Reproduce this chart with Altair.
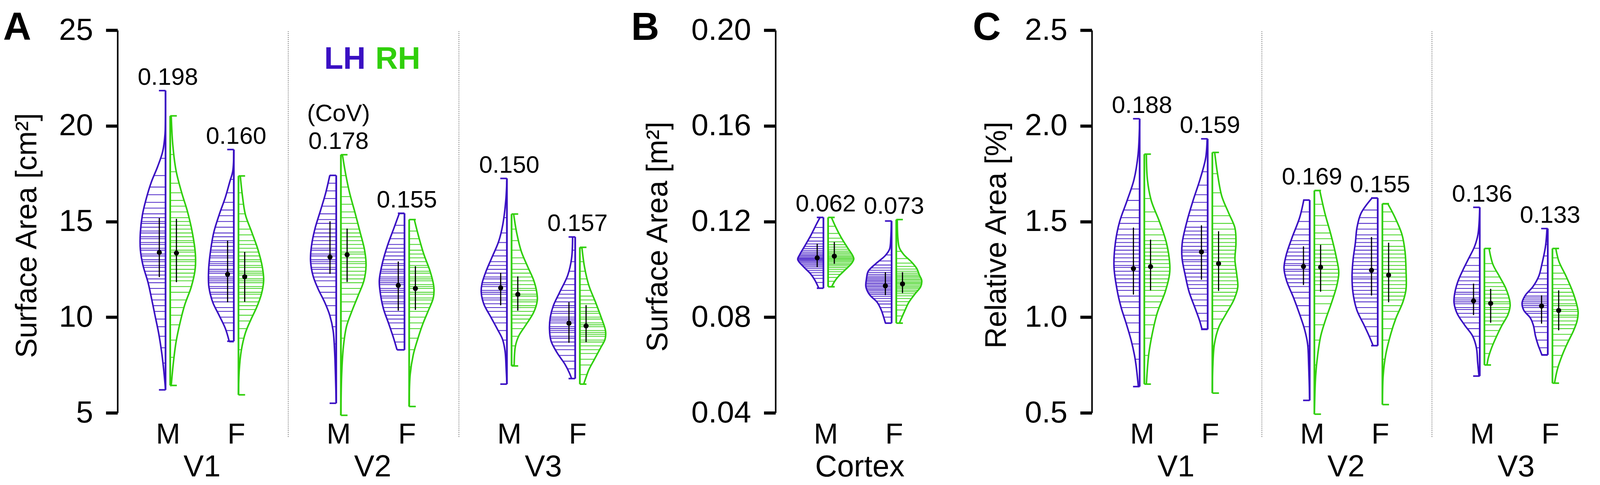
import altair as alt
import numpy as np
import pandas as pd

# ---------------- Panel A : Surface Area [cm2] ----------------
# profile: y = value, w = relative density (1 = widest)
A_V1_M_LH_y = [21.84, 19.58, 18.66, 17.86, 17.07, 16.15, 15.35, 14.43, 13.52, 12.72, 11.81, 11.01, 10.09, 9.18, 8.15, 7.23, 6.20]
A_V1_M_LH_w = [0.00, 0.02, 0.11, 0.31, 0.55, 0.76, 0.90, 0.98, 0.98, 0.88, 0.68, 0.55, 0.41, 0.27, 0.15, 0.07, 0.00]
A_V1_M_LH_obs = [6.2, 7.6, 8.4, 9.0, 9.5, 9.9, 10.3, 10.6, 10.9, 11.2, 11.5, 11.8, 12.0, 12.2, 12.4, 12.6, 12.7, 12.9, 13.0, 13.2, 13.3, 13.5, 13.6, 13.8, 13.9, 14.1, 14.2, 14.4, 14.5, 14.7, 14.9, 15.0, 15.2, 15.4, 15.7, 16.0, 16.4, 16.8, 17.4, 18.3]

A_V1_M_RH_y = [20.52, 19.01, 17.64, 16.49, 15.58, 14.43, 13.29, 12.49, 11.58, 10.66, 9.86, 8.72, 7.58, 6.43]
A_V1_M_RH_w = [0.04, 0.10, 0.23, 0.45, 0.66, 0.86, 0.98, 0.97, 0.82, 0.57, 0.41, 0.23, 0.12, 0.04]
A_V1_M_RH_obs = [6.4, 7.9, 8.8, 9.6, 10.1, 10.5, 10.9, 11.3, 11.6, 11.9, 12.1, 12.3, 12.5, 12.7, 12.9, 13.0, 13.2, 13.4, 13.5, 13.7, 13.9, 14.0, 14.2, 14.4, 14.6, 14.8, 15.0, 15.2, 15.5, 15.8, 16.1, 16.5, 17.0, 17.6, 18.5]

A_V1_F_LH_y = [18.76, 17.64, 17.06, 16.26, 15.35, 14.43, 13.52, 12.49, 11.58, 10.78, 10.09, 9.41, 8.74]
A_V1_F_LH_w = [0.00, 0.04, 0.16, 0.33, 0.57, 0.78, 0.90, 0.98, 0.97, 0.82, 0.57, 0.33, 0.18]
A_V1_F_LH_obs = [8.7, 9.3, 9.7, 10.0, 10.3, 10.5, 10.8, 11.0, 11.2, 11.3, 11.5, 11.6, 11.8, 11.9, 12.0, 12.1, 12.3, 12.4, 12.5, 12.7, 12.8, 12.9, 13.1, 13.2, 13.4, 13.5, 13.7, 13.9, 14.0, 14.2, 14.4, 14.7, 15.0, 15.3, 15.6, 16.0, 16.5, 17.2]

A_V1_F_RH_y = [17.38, 16.38, 15.35, 14.43, 13.52, 12.61, 11.92, 11.24, 10.55, 9.86, 9.18, 8.26, 7.24, 5.94]
A_V1_F_RH_w = [0.07, 0.15, 0.27, 0.52, 0.76, 0.93, 0.98, 0.90, 0.72, 0.48, 0.27, 0.11, 0.03, 0.00]
A_V1_F_RH_obs = [7.5, 8.3, 8.9, 9.4, 9.8, 10.1, 10.4, 10.6, 10.8, 11.0, 11.2, 11.3, 11.5, 11.6, 11.8, 11.9, 12.0, 12.2, 12.3, 12.4, 12.6, 12.7, 12.9, 13.0, 13.2, 13.4, 13.6, 13.8, 14.0, 14.3, 14.6, 15.0, 15.4, 15.9, 16.5]

A_V2_M_LH_y = [17.41, 16.49, 15.58, 14.66, 13.75, 12.95, 12.15, 11.46, 10.78, 10.09, 9.29, 8.15, 7.01, 5.50]
A_V2_M_LH_w = [0.25, 0.41, 0.61, 0.82, 0.96, 1.00, 0.90, 0.70, 0.45, 0.25, 0.12, 0.06, 0.03, 0.00]
A_V2_M_LH_obs = [8.6, 9.5, 10.1, 10.6, 11.0, 11.3, 11.6, 11.9, 12.1, 12.3, 12.5, 12.6, 12.8, 12.9, 13.0, 13.2, 13.3, 13.5, 13.6, 13.8, 14.0, 14.2, 14.4, 14.6, 14.9, 15.1, 15.4, 15.8, 16.2, 16.6, 17.0]

A_V2_M_RH_y = [18.49, 17.52, 16.49, 15.46, 14.43, 13.52, 12.72, 11.92, 11.12, 10.32, 9.52, 8.49, 7.01, 4.87]
A_V2_M_RH_w = [0.06, 0.18, 0.34, 0.55, 0.75, 0.92, 0.98, 0.90, 0.67, 0.43, 0.22, 0.10, 0.03, 0.00]
A_V2_M_RH_obs = [7.5, 8.9, 9.8, 10.3, 10.8, 11.2, 11.5, 11.8, 12.0, 12.2, 12.4, 12.6, 12.8, 12.9, 13.1, 13.3, 13.4, 13.6, 13.8, 14.0, 14.2, 14.4, 14.6, 14.9, 15.2, 15.5, 15.9, 16.3, 16.8, 17.4]

A_V2_F_LH_y = [15.43, 14.66, 13.75, 12.83, 11.92, 11.24, 10.44, 9.64, 8.84, 8.29]
A_V2_F_LH_w = [0.20, 0.41, 0.66, 0.86, 0.98, 0.94, 0.82, 0.61, 0.41, 0.29]
A_V2_F_LH_obs = [8.3, 8.7, 9.1, 9.4, 9.7, 9.9, 10.1, 10.3, 10.5, 10.7, 10.8, 11.0, 11.1, 11.3, 11.4, 11.5, 11.7, 11.8, 11.9, 12.0, 12.1, 12.3, 12.4, 12.5, 12.7, 12.8, 13.0, 13.2, 13.4, 13.6, 13.8, 14.1, 14.4, 14.8, 15.4]

A_V2_F_RH_y = [15.10, 14.21, 13.29, 12.38, 11.58, 11.01, 10.32, 9.64, 8.84, 8.04, 7.01, 5.33]
A_V2_F_RH_w = [0.20, 0.37, 0.57, 0.82, 0.96, 0.94, 0.74, 0.53, 0.33, 0.16, 0.04, 0.00]
A_V2_F_RH_obs = [7.4, 8.3, 8.9, 9.4, 9.7, 10.0, 10.3, 10.5, 10.7, 10.9, 11.0, 11.2, 11.3, 11.5, 11.6, 11.7, 11.9, 12.0, 12.1, 12.3, 12.4, 12.6, 12.7, 12.9, 13.1, 13.3, 13.5, 13.8, 14.1, 14.5, 15.1]

A_V3_M_LH_y = [17.25, 16.16, 14.84, 13.96, 13.07, 12.37, 11.75, 11.31, 10.69, 9.99, 9.37, 8.84, 8.21, 7.34, 6.50]
A_V3_M_LH_w = [0.00, 0.04, 0.16, 0.32, 0.60, 0.82, 0.97, 1.00, 0.90, 0.62, 0.37, 0.17, 0.07, 0.03, 0.00]
A_V3_M_LH_obs = [8.0, 8.8, 9.3, 9.7, 10.0, 10.3, 10.5, 10.7, 10.9, 11.0, 11.2, 11.3, 11.4, 11.6, 11.7, 11.8, 12.0, 12.1, 12.3, 12.5, 12.7, 12.9, 13.2, 13.5, 13.9, 14.4, 15.2]

A_V3_M_RH_y = [15.39, 14.40, 13.43, 12.63, 11.93, 11.31, 10.87, 10.25, 9.54, 9.02, 8.49, 7.45]
A_V3_M_RH_w = [0.08, 0.20, 0.38, 0.63, 0.86, 0.98, 1.00, 0.86, 0.53, 0.28, 0.15, 0.10]
A_V3_M_RH_obs = [7.5, 8.5, 9.0, 9.4, 9.7, 9.9, 10.1, 10.3, 10.5, 10.6, 10.8, 10.9, 11.1, 11.2, 11.4, 11.5, 11.7, 11.9, 12.1, 12.3, 12.5, 12.8, 13.1, 13.5, 14.0, 14.6, 15.4]

A_V3_F_LH_y = [14.19, 13.07, 12.19, 11.31, 10.60, 9.99, 9.37, 8.75, 8.13, 7.52, 7.07, 6.79]
A_V3_F_LH_w = [0.10, 0.14, 0.29, 0.60, 0.85, 0.97, 1.00, 0.94, 0.70, 0.39, 0.22, 0.14]
A_V3_F_LH_obs = [6.8, 7.3, 7.7, 8.0, 8.3, 8.5, 8.7, 8.9, 9.0, 9.2, 9.3, 9.4, 9.5, 9.7, 9.8, 9.9, 10.0, 10.2, 10.3, 10.5, 10.6, 10.8, 11.0, 11.2, 11.4, 11.7, 12.0, 12.4, 12.9, 13.5, 14.2]

A_V3_F_RH_y = [13.65, 12.63, 11.66, 10.78, 9.99, 9.28, 8.84, 8.40, 7.78, 7.25, 6.81, 6.50]
A_V3_F_RH_w = [0.08, 0.18, 0.35, 0.61, 0.83, 1.00, 0.98, 0.81, 0.56, 0.35, 0.23, 0.15]
A_V3_F_RH_obs = [6.5, 7.0, 7.5, 7.8, 8.1, 8.3, 8.5, 8.7, 8.8, 9.0, 9.1, 9.2, 9.3, 9.5, 9.6, 9.7, 9.9, 10.0, 10.2, 10.3, 10.5, 10.7, 10.9, 11.1, 11.4, 11.7, 12.0, 12.4, 12.9, 13.6]

# order of halves: V1 M LH, V1 M RH, V1 F LH, V1 F RH, V2 ..., V3 ...
A_dot = [13.38, 13.35, 12.24, 12.11, 13.14, 13.26, 11.66, 11.50, 11.53, 11.19, 9.68, 9.54]
A_lo = [12.09, 11.83, 10.78, 10.80, 12.26, 11.84, 10.34, 10.38, 10.62, 10.34, 8.66, 8.69]
A_hi = [15.18, 15.14, 14.00, 13.41, 15.01, 14.63, 12.91, 12.66, 12.32, 12.13, 10.78, 10.63]
A_cov = ["0.198", "0.160", "0.178", "0.155", "0.150", "0.157"]

# ---------------- Panel B : Surface Area [m2] ----------------
B_Cortex_M_LH_y = [0.1217, 0.1187, 0.1144, 0.1106, 0.1062, 0.1041, 0.1008, 0.0981, 0.0954, 0.0921]
B_Cortex_M_LH_w = [0.13, 0.28, 0.48, 0.68, 0.92, 1.00, 0.75, 0.50, 0.33, 0.18]
B_Cortex_M_LH_obs = [0.0945, 0.0962, 0.0975, 0.0986, 0.0995, 0.1003, 0.1010, 0.1016, 0.1022, 0.1028, 0.1033, 0.1038, 0.1042, 0.1046, 0.1050, 0.1055, 0.1060, 0.1066, 0.1072, 0.1079, 0.1087, 0.1096, 0.1106, 0.1118, 0.1133, 0.1152, 0.1175]

B_Cortex_M_RH_y = [0.1217, 0.1176, 0.1133, 0.1090, 0.1057, 0.1043, 0.1024, 0.0997, 0.0970, 0.0949, 0.0927]
B_Cortex_M_RH_w = [0.13, 0.30, 0.51, 0.76, 0.96, 1.00, 0.91, 0.66, 0.40, 0.25, 0.14]
B_Cortex_M_RH_obs = [0.0950, 0.0966, 0.0979, 0.0990, 0.0999, 0.1007, 0.1014, 0.1020, 0.1026, 0.1032, 0.1037, 0.1042, 0.1047, 0.1052, 0.1057, 0.1063, 0.1069, 0.1076, 0.1084, 0.1093, 0.1103, 0.1115, 0.1130, 0.1150, 0.1180]

B_Cortex_F_LH_y = [0.1202, 0.1133, 0.1084, 0.1057, 0.1024, 0.0992, 0.0959, 0.0927, 0.0894, 0.0862, 0.0829, 0.0797, 0.0775]
B_Cortex_F_LH_w = [0.01, 0.03, 0.08, 0.25, 0.61, 0.91, 0.98, 1.00, 0.86, 0.56, 0.40, 0.30, 0.24]
B_Cortex_F_LH_obs = [0.0800, 0.0822, 0.0840, 0.0855, 0.0867, 0.0878, 0.0887, 0.0895, 0.0902, 0.0909, 0.0915, 0.0921, 0.0927, 0.0932, 0.0938, 0.0943, 0.0949, 0.0954, 0.0960, 0.0966, 0.0972, 0.0979, 0.0987, 0.0996, 0.1006, 0.1018, 0.1035, 0.1060, 0.1100]

B_Cortex_F_RH_y = [0.1208, 0.1133, 0.1090, 0.1062, 0.1030, 0.1003, 0.0976, 0.0954, 0.0927, 0.0900, 0.0862, 0.0824, 0.0775]
B_Cortex_F_RH_w = [0.04, 0.06, 0.12, 0.29, 0.60, 0.80, 0.90, 0.99, 0.95, 0.75, 0.49, 0.32, 0.12]
B_Cortex_F_RH_obs = [0.0805, 0.0830, 0.0850, 0.0865, 0.0878, 0.0889, 0.0898, 0.0906, 0.0913, 0.0920, 0.0926, 0.0932, 0.0938, 0.0943, 0.0948, 0.0954, 0.0959, 0.0965, 0.0971, 0.0977, 0.0984, 0.0992, 0.1001, 0.1012, 0.1026, 0.1045, 0.1075, 0.1130]

B_dot = [0.1048, 0.1055, 0.0931, 0.0939]
B_lo = [0.1009, 0.1023, 0.0892, 0.0901]
B_hi = [0.1107, 0.1114, 0.0988, 0.0988]
B_cov = ["0.062", "0.073"]

# ---------------- Panel C : Relative Area [%] ----------------
C_V1_M_LH_y = [2.037, 1.852, 1.719, 1.609, 1.499, 1.394, 1.265, 1.136, 1.050, 0.970, 0.878, 0.800, 0.749, 0.637]
C_V1_M_LH_w = [0.00, 0.06, 0.22, 0.49, 0.78, 0.94, 1.00, 0.87, 0.72, 0.53, 0.33, 0.20, 0.14, 0.05]
C_V1_M_LH_obs = [0.78, 0.86, 0.92, 0.97, 1.01, 1.05, 1.08, 1.11, 1.14, 1.16, 1.18, 1.20, 1.22, 1.24, 1.26, 1.27, 1.29, 1.31, 1.33, 1.35, 1.37, 1.39, 1.41, 1.43, 1.46, 1.49, 1.52, 1.56, 1.61, 1.67]

C_V1_M_RH_y = [1.852, 1.719, 1.609, 1.499, 1.389, 1.278, 1.223, 1.135, 1.025, 0.914, 0.804, 0.650]
C_V1_M_RH_w = [0.08, 0.12, 0.27, 0.59, 0.86, 0.99, 0.98, 0.82, 0.51, 0.31, 0.17, 0.08]
C_V1_M_RH_obs = [0.80, 0.89, 0.96, 1.01, 1.05, 1.08, 1.11, 1.14, 1.16, 1.18, 1.20, 1.22, 1.24, 1.26, 1.28, 1.30, 1.32, 1.34, 1.36, 1.38, 1.40, 1.43, 1.46, 1.50, 1.55, 1.62]

C_V1_F_LH_y = [1.932, 1.830, 1.719, 1.609, 1.499, 1.389, 1.311, 1.223, 1.135, 1.047, 0.980, 0.936]
C_V1_F_LH_w = [0.02, 0.08, 0.30, 0.57, 0.81, 0.99, 1.00, 0.88, 0.73, 0.49, 0.31, 0.22]
C_V1_F_LH_obs = [0.94, 0.98, 1.02, 1.06, 1.09, 1.12, 1.15, 1.17, 1.19, 1.21, 1.23, 1.25, 1.27, 1.29, 1.30, 1.32, 1.34, 1.35, 1.37, 1.39, 1.41, 1.43, 1.45, 1.47, 1.50, 1.53, 1.56, 1.60, 1.64, 1.69, 1.76]

C_V1_F_RH_y = [1.861, 1.742, 1.631, 1.543, 1.466, 1.389, 1.300, 1.223, 1.157, 1.091, 1.014, 0.947, 0.859, 0.749, 0.603]
C_V1_F_RH_w = [0.09, 0.21, 0.37, 0.64, 0.88, 0.92, 0.88, 0.95, 0.99, 0.84, 0.52, 0.25, 0.08, 0.02, 0.00]
C_V1_F_RH_obs = [0.85, 0.94, 0.99, 1.03, 1.06, 1.09, 1.11, 1.13, 1.15, 1.17, 1.19, 1.21, 1.23, 1.25, 1.27, 1.29, 1.31, 1.33, 1.35, 1.37, 1.39, 1.41, 1.43, 1.46, 1.49, 1.53, 1.58, 1.65, 1.75]

C_V2_M_LH_y = [1.612, 1.521, 1.411, 1.322, 1.256, 1.190, 1.102, 1.014, 0.936, 0.859, 0.749, 0.565]
C_V2_M_LH_w = [0.23, 0.39, 0.70, 0.92, 1.00, 0.90, 0.63, 0.39, 0.20, 0.08, 0.04, 0.00]
C_V2_M_LH_obs = [0.85, 0.95, 1.01, 1.06, 1.10, 1.13, 1.16, 1.18, 1.20, 1.22, 1.24, 1.25, 1.27, 1.28, 1.30, 1.32, 1.34, 1.36, 1.38, 1.40, 1.43, 1.46, 1.50, 1.55, 1.61]

C_V2_M_RH_y = [1.662, 1.543, 1.433, 1.322, 1.234, 1.168, 1.080, 0.992, 0.903, 0.804, 0.694, 0.493]
C_V2_M_RH_w = [0.21, 0.41, 0.64, 0.84, 0.95, 0.88, 0.68, 0.45, 0.25, 0.13, 0.05, 0.00]
C_V2_M_RH_obs = [0.75, 0.88, 0.96, 1.02, 1.07, 1.11, 1.14, 1.17, 1.19, 1.21, 1.23, 1.25, 1.27, 1.29, 1.31, 1.33, 1.35, 1.38, 1.41, 1.44, 1.48, 1.53, 1.59, 1.66]

C_V2_F_LH_y = [1.623, 1.543, 1.466, 1.389, 1.300, 1.212, 1.124, 1.036, 0.958, 0.903, 0.851]
C_V2_F_LH_w = [0.22, 0.65, 0.81, 0.87, 0.96, 1.00, 0.96, 0.81, 0.53, 0.34, 0.18]
C_V2_F_LH_obs = [0.85, 0.90, 0.95, 0.99, 1.02, 1.05, 1.08, 1.10, 1.12, 1.14, 1.16, 1.18, 1.20, 1.21, 1.23, 1.25, 1.27, 1.29, 1.31, 1.33, 1.35, 1.37, 1.39, 1.41, 1.43, 1.46, 1.49, 1.52, 1.56, 1.62]

C_V2_F_RH_y = [1.593, 1.521, 1.433, 1.344, 1.245, 1.146, 1.080, 0.992, 0.914, 0.804, 0.694, 0.543]
C_V2_F_RH_w = [0.21, 0.49, 0.76, 0.88, 0.92, 0.92, 0.80, 0.52, 0.33, 0.13, 0.03, 0.00]
C_V2_F_RH_obs = [0.78, 0.88, 0.94, 0.99, 1.03, 1.06, 1.09, 1.11, 1.13, 1.15, 1.17, 1.19, 1.21, 1.23, 1.25, 1.27, 1.29, 1.31, 1.33, 1.35, 1.37, 1.40, 1.43, 1.46, 1.50, 1.55, 1.59]

C_V3_M_LH_y = [1.574, 1.432, 1.370, 1.307, 1.245, 1.183, 1.120, 1.074, 1.019, 0.957, 0.902, 0.840, 0.762, 0.692]
C_V3_M_LH_w = [0.00, 0.07, 0.20, 0.43, 0.66, 0.86, 0.98, 1.00, 0.88, 0.58, 0.28, 0.13, 0.08, 0.03]
C_V3_M_LH_obs = [0.84, 0.90, 0.94, 0.97, 1.00, 1.02, 1.04, 1.05, 1.07, 1.08, 1.09, 1.10, 1.12, 1.13, 1.15, 1.17, 1.19, 1.21, 1.24, 1.27, 1.31, 1.36]

C_V3_M_RH_y = [1.359, 1.276, 1.214, 1.151, 1.089, 1.058, 1.011, 0.957, 0.902, 0.840, 0.786, 0.750]
C_V3_M_RH_w = [0.18, 0.33, 0.58, 0.83, 0.98, 1.00, 0.91, 0.68, 0.48, 0.28, 0.15, 0.10]
C_V3_M_RH_obs = [0.75, 0.81, 0.86, 0.90, 0.93, 0.96, 0.98, 1.00, 1.02, 1.04, 1.05, 1.07, 1.08, 1.10, 1.12, 1.14, 1.16, 1.18, 1.21, 1.24, 1.28, 1.36]

C_V3_F_LH_y = [1.463, 1.369, 1.276, 1.214, 1.159, 1.113, 1.074, 1.035, 0.996, 0.957, 0.902, 0.856, 0.824, 0.803]
C_V3_F_LH_w = [0.03, 0.09, 0.23, 0.35, 0.58, 0.88, 1.00, 0.93, 0.68, 0.56, 0.48, 0.38, 0.29, 0.23]
C_V3_F_LH_obs = [0.80, 0.84, 0.88, 0.92, 0.95, 0.98, 1.00, 1.02, 1.03, 1.05, 1.06, 1.07, 1.08, 1.09, 1.10, 1.11, 1.13, 1.15, 1.17, 1.20, 1.23, 1.27, 1.32, 1.38]

C_V3_F_RH_y = [1.359, 1.292, 1.214, 1.136, 1.074, 1.027, 0.980, 0.926, 0.863, 0.801, 0.731, 0.655]
C_V3_F_RH_w = [0.13, 0.25, 0.53, 0.78, 0.93, 1.00, 0.96, 0.81, 0.58, 0.38, 0.20, 0.08]
C_V3_F_RH_obs = [0.74, 0.80, 0.85, 0.88, 0.91, 0.94, 0.96, 0.98, 1.00, 1.01, 1.03, 1.04, 1.06, 1.07, 1.09, 1.11, 1.13, 1.15, 1.17, 1.20, 1.23, 1.27, 1.31, 1.36]

C_dot = [1.254, 1.264, 1.341, 1.280, 1.265, 1.261, 1.245, 1.220, 1.085, 1.072, 1.058, 1.035]
C_lo = [1.118, 1.140, 1.196, 1.137, 1.168, 1.133, 1.113, 1.078, 1.011, 0.971, 0.966, 0.931]
C_hi = [1.468, 1.405, 1.480, 1.449, 1.370, 1.378, 1.419, 1.389, 1.175, 1.148, 1.114, 1.140]
C_cov = ["0.188", "0.159", "0.169", "0.155", "0.136", "0.133"]

SEXES = ["M", "F"]
HEMIS = ["LH", "RH"]

# ---------------- styling ----------------
PURPLE = "#3a10c3"
GREEN = "#30cf0b"
FONT = "Liberation Sans"
HALF_W = 66.0   # px, width of a density of 1
EDGE = 6.0      # px, gap from slot to flat side
DOT = 22.0      # px, mean marker offset
SERIF = 17.0    # px, bracket serif length
SLOT_OFF = {"M": 0.295, "F": 0.695}
PLOT_H = 983


def build_panel(prefix, regions, width, x_max, y_dom, y_ticks, y_fmt, y_title,
                title_x, title_y, covs, dots, los, his, letter, letter_x,
                separators, legend=False):
    gpx = width / x_max
    upx = 1.0 / gpx
    outline, caps, edges, hatch, stats, cov_rows = [], [], [], [], [], []
    slots = []
    i = 0
    for gi, reg in enumerate(regions):
        for si, sex in enumerate(SEXES):
            slot = gi + SLOT_OFF[sex]
            slots.append(slot)
            top = -1e9
            for hemi in HEMIS:
                key = f"{prefix}_{reg}_{sex}_{hemi}"
                ys = globals()[key + "_y"]
                ws = globals()[key + "_w"]
                obs = globals()[key + "_obs"]
                sgn = -1.0 if hemi == "LH" else 1.0
                edge = slot + sgn * EDGE * upx
                for k, (yv, wv) in enumerate(zip(ys, ws)):
                    outline.append(dict(key=key, hemi=hemi, order=k,
                                        x=edge + sgn * wv * HALF_W * upx, y=yv))
                ymax, ymin = max(ys), min(ys)
                w_top = ws[int(np.argmax(ys))]
                w_bot = ws[int(np.argmin(ys))]
                caps.append(dict(hemi=hemi, y=ymax, x=edge,
                                 x2=edge + sgn * max(SERIF, w_top * HALF_W) * upx))
                caps.append(dict(hemi=hemi, y=ymin, x=edge,
                                 x2=edge + sgn * max(SERIF, w_bot * HALF_W) * upx))
                edges.append(dict(hemi=hemi, x=edge, y=ymin, y2=ymax))
                order = np.argsort(ys)
                ya = np.asarray(ys)[order]
                wa = np.asarray(ws)[order]
                for ov in obs:
                    wv = float(np.interp(ov, ya, wa))
                    hatch.append(dict(hemi=hemi, y=ov, x=edge,
                                      x2=edge + sgn * wv * HALF_W * upx))
                stats.append(dict(x=slot + sgn * DOT * upx, y=dots[i], lo=los[i], hi=his[i]))
                i += 1
                top = max(top, ymax)
            cov_rows.append(dict(x=slot, y=top, t=covs[gi * 2 + si], reg=reg, sex=sex))

    xscale = alt.Scale(domain=[0, x_max], nice=False, zero=False)
    yscale = alt.Scale(domain=y_dom, nice=False, zero=False)
    color = alt.Color("hemi:N", scale=alt.Scale(domain=HEMIS, range=[PURPLE, GREEN]), legend=None)

    x_axis = alt.Axis(values=slots,
                      labelExpr="(datum.value - floor(datum.value)) < 0.5 ? 'M' : 'F'",
                      domain=False, ticks=False, tickSize=0, grid=False, title=None,
                      labelFontSize=75, labelFont=FONT, labelColor="black",
                      labelPadding=79, labelBaseline="alphabetic",
                      labelOverlap=False, labelFlush=False)
    y_axis = alt.Axis(values=y_ticks, format=y_fmt, grid=False,
                      domainWidth=4, domainColor="black",
                      tickWidth=8, tickSize=30, tickColor="black",
                      labelFontSize=79, labelFont=FONT, labelColor="black", labelPadding=33,
                      title=y_title, titleFont=FONT, titleFontSize=76, titleFontWeight="normal",
                      titleColor="black", titleAngle=270, titleAlign="center",
                      titleBaseline="alphabetic", titleX=title_x, titleY=title_y)

    def X(f):
        return alt.X(f, type="quantitative", scale=xscale, axis=x_axis)

    def Y(f):
        return alt.Y(f, type="quantitative", scale=yscale, axis=y_axis)

    layers = []
    if separators:
        sep_df = pd.DataFrame({"x": separators})
        layers.append(alt.Chart(sep_df).mark_rule(strokeDash=[2, 3], strokeWidth=1.6, color="#444").encode(
            x=X("x"), y=alt.value(3), y2=alt.value(1046)))
    layers.append(alt.Chart(pd.DataFrame(hatch)).mark_rule(strokeWidth=2.1, opacity=0.9).encode(
        x=X("x"), x2="x2:Q", y=Y("y"), color=color))
    layers.append(alt.Chart(pd.DataFrame(outline)).mark_line(strokeWidth=4, interpolate="catmull-rom").encode(
        x=X("x"), y=Y("y"), color=color, detail="key:N", order="order:Q"))
    layers.append(alt.Chart(pd.DataFrame(edges)).mark_rule(strokeWidth=4.5).encode(
        x=X("x"), y=Y("y"), y2="y2:Q", color=color))
    layers.append(alt.Chart(pd.DataFrame(caps)).mark_rule(strokeWidth=4).encode(
        x=X("x"), x2="x2:Q", y=Y("y"), color=color))
    sdf = pd.DataFrame(stats)
    layers.append(alt.Chart(sdf).mark_rule(strokeWidth=3, color="black").encode(
        x=X("x"), y=Y("lo"), y2="hi:Q"))
    layers.append(alt.Chart(sdf).mark_circle(size=170, color="black", opacity=1).encode(
        x=X("x"), y=Y("y")))
    cdf = pd.DataFrame(cov_rows)
    layers.append(alt.Chart(cdf).mark_text(fontSize=62, font=FONT, baseline="alphabetic", dy=-15,
                                           color="black").encode(
        x=X("x"), y=Y("y"), text="t:N"))
    gdf = pd.DataFrame({"x": [g + 0.495 for g in range(len(regions))], "t": regions})
    layers.append(alt.Chart(gdf).mark_text(fontSize=78, font=FONT, baseline="alphabetic",
                                           color="black").encode(
        x=X("x"), y=alt.value(1146), text="t:N"))
    ldf = pd.DataFrame({"t": [letter]})
    layers.append(alt.Chart(ldf).mark_text(fontSize=100, font=FONT, fontWeight="bold", align="left",
                                           baseline="alphabetic", color="black").encode(
        x=alt.value(letter_x), y=alt.value(25), text="t:N"))
    if legend:
        # "(CoV)" note above the V2 male value
        note = cdf[(cdf.reg == "V2") & (cdf.sex == "M")].assign(t="(CoV)")
        layers.append(alt.Chart(note).mark_text(fontSize=62, font=FONT, baseline="alphabetic", dy=-86,
                                                color="black").encode(
            x=X("x"), y=Y("y"), text="t:N"))
        leg = pd.DataFrame({"x": [1.495, 1.495], "t": HEMIS, "hemi": HEMIS})
        layers.append(alt.Chart(leg[leg.hemi == "LH"]).mark_text(
            fontSize=80, font=FONT, fontWeight="bold", align="right", baseline="alphabetic", dx=-18).encode(
            x=X("x"), y=alt.value(99), text="t:N", color=color))
        layers.append(alt.Chart(leg[leg.hemi == "RH"]).mark_text(
            fontSize=80, font=FONT, fontWeight="bold", align="left", baseline="alphabetic", dx=7).encode(
            x=X("x"), y=alt.value(99), text="t:N", color=color))
    return alt.layer(*layers).properties(width=width, height=PLOT_H)


panel_a = build_panel("A", ["V1", "V2", "V3"], 1316, 3.0, [5, 25], [5, 10, 15, 20, 25], "d",
                      "Surface Area [cm²]", -209, 527, A_cov, A_dot, A_lo, A_hi, "A", -294,
                      [1, 2], legend=True)
panel_b = build_panel("B", ["Cortex"], 438, 1.0, [0.04, 0.20], [0.04, 0.08, 0.12, 0.16, 0.20], ".2f",
                      "Surface Area [m²]", -279, 530, B_cov, B_dot, B_lo, B_hi, "B", -371, [])
panel_c = build_panel("C", ["V1", "V2", "V3"], 1298, 2.97, [0.5, 2.5], [0.5, 1.0, 1.5, 2.0, 2.5], ".1f",
                      "Relative Area [%]", -221, 526, C_cov, C_dot, C_lo, C_hi, "C", -306, [1, 2])

chart = alt.hconcat(panel_a, panel_b, panel_c, spacing=375, bounds="flush").properties(
    padding={"top": 12, "left": 0, "right": 0, "bottom": 0}
).configure(
    font=FONT, view=alt.ViewConfig(stroke="transparent", strokeWidth=0)
)

chart.save("out.html", embed_options={"renderer": "svg", "actions": False})
